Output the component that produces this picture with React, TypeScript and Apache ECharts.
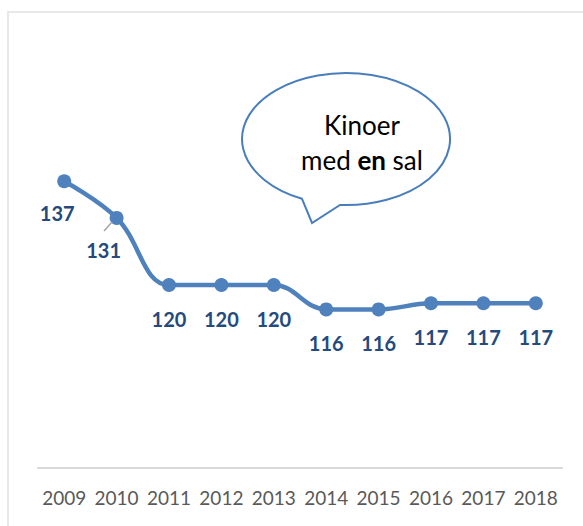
import React, { useEffect, useRef } from "react";
import * as echarts from "echarts";

const years = ["2009", "2010", "2011", "2012", "2013", "2014", "2015", "2016", "2017", "2018"];
const cinemas = [137, 131, 120, 120, 120, 116, 116, 117, 117, 117];
const calloutLines = ["Kinoer", "med ", "en", " sal"];

const FONT = "Lato, 'Open Sans', sans-serif";
const LINE_COLOR = "#4f81bd";
const LABEL_COLOR = "#254a7d";

const CALLOUT_PATH = "M 302 198.8 A 104 66 0 1 1 340 204.9 L 312 223 Z";

let registered = false;

export default function App() {
  const ref = useRef<HTMLDivElement>(null);

  useEffect(() => {
    if (!ref.current) return;
    if (!registered) {
      echarts.graphic.registerShape("callout", echarts.graphic.extendPath(CALLOUT_PATH, {}));
      registered = true;
    }
    const chart = echarts.init(ref.current, null, { renderer: "svg" });

    const labelOffsets: Record<number, number[]> = { 0: [-7, -2], 1: [-13, -2] };

    chart.setOption({
      animation: false,
      backgroundColor: "#ffffff",
      grid: { left: 38, right: 21, top: 163, bottom: 58 },
      xAxis: {
        type: "category",
        data: years,
        boundaryGap: true,
        axisLine: { show: true, lineStyle: { color: "#d9d9d9", width: 2 } },
        axisTick: { show: false },
        axisLabel: { color: "#595959", fontSize: 19, fontFamily: FONT, margin: 20, interval: 0 },
      },
      yAxis: {
        type: "value",
        min: 90,
        max: 140,
        show: false,
        splitLine: { show: false },
      },
      series: [
        {
          type: "line",
          data: cinemas.map((v, i) => ({
            value: v,
            label: labelOffsets[i] ? { offset: labelOffsets[i] } : undefined,
          })),
          smooth: 0.4,
          symbol: "circle",
          symbolSize: 14,
          lineStyle: { color: LINE_COLOR, width: 4.5 },
          itemStyle: { color: LINE_COLOR },
          label: {
            show: true,
            position: "bottom",
            distance: 17,
            color: LABEL_COLOR,
            fontSize: 20,
            fontWeight: "bold",
            fontFamily: FONT,
          },
        },
      ],
      graphic: [
        {
          type: "rect",
          silent: true,
          z: -10,
          shape: { x: 8, y: 12, width: 800, height: 800 },
          style: { fill: "none", stroke: "#e8e8e8", lineWidth: 2 },
        },
        {
          type: "callout",
          x: 0,
          y: 0,
          z: 10,
          style: { fill: "#ffffff", stroke: "#4a7ebb", lineWidth: 2 },
        },
        {
          type: "text",
          z: 11,
          x: 362,
          y: 125,
          style: {
            text: calloutLines[0],
            fill: "#000000",
            fontSize: 26,
            fontFamily: FONT,
            align: "center",
            verticalAlign: "middle",
          },
        },
        {
          type: "text",
          z: 11,
          x: 362,
          y: 160,
          style: {
            text: `{a|${calloutLines[1]}}{b|${calloutLines[2]}}{a|${calloutLines[3]}}`,
            align: "center",
            verticalAlign: "middle",
            rich: {
              a: { fontSize: 26, fontFamily: FONT, fill: "#000000" },
              b: { fontSize: 26, fontFamily: FONT, fill: "#000000", fontWeight: "bold" },
            },
          },
        },
        {
          type: "line",
          z: 5,
          shape: { x1: 104, y1: 231, x2: 112, y2: 222 },
          style: { stroke: "#a6a6a6", lineWidth: 1.5 },
        },
      ],
    });

    return () => chart.dispose();
  }, []);

  return (
    <div
      ref={ref}
      style={{ position: "fixed", left: 0, top: 0, width: 583, height: 526 }}
    />
  );
}
